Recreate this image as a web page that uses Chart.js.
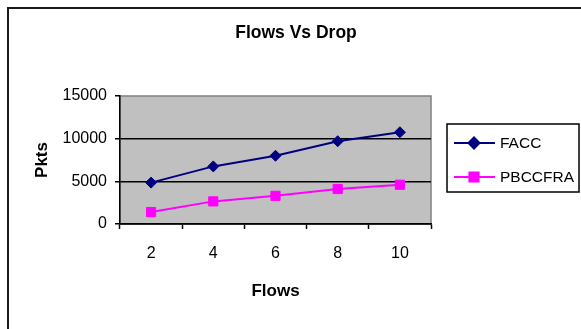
<!DOCTYPE html>
<html>
<head>
<meta charset="utf-8">
<script src="https://cdn.jsdelivr.net/npm/chart.js@4/dist/chart.umd.min.js"></script>
<style>
  html, body { margin: 0; padding: 0; background: #fff; overflow: hidden; }
  #wrap { width: 581px; height: 329px; position: relative; }
</style>
</head>
<body>
<div id="wrap"><canvas id="c" width="581" height="329"></canvas></div>
<script>
// Packet drops per number of flows
const flows = ['2', '4', '6', '8', '10'];
const faccDrop = [4850, 6750, 8000, 9700, 10750];
const pbccfraDrop = [1400, 2650, 3300, 4100, 4600];
const yTicks = [0, 5000, 10000, 15000];
const seriesNames = ['FACC', 'PBCCFRA'];
const chartTitle = 'Flows Vs Drop';
const xTitle = 'Flows';
const yTitle = 'Pkts';

const FONT = '"Liberation Sans", Arial, Helvetica, sans-serif';

// Grey plot background, outer frame, title and boxed legend
const excelFrame = {
  id: 'excelFrame',
  beforeDraw(chart) {
    const { ctx, chartArea: a } = chart;
    ctx.save();
    ctx.fillStyle = '#ffffff';
    ctx.fillRect(0, 0, chart.width, chart.height);
    ctx.fillStyle = '#c0c0c0';
    ctx.fillRect(a.left, a.top, a.right - a.left, a.bottom - a.top);
    ctx.strokeStyle = '#808080';
    ctx.lineWidth = 1.5;
    ctx.strokeRect(a.left, a.top, a.right - a.left, a.bottom - a.top);
    ctx.restore();
  },
  afterDraw(chart) {
    const { ctx } = chart;
    ctx.save();
    // outer chart border (runs off the right and bottom edges)
    ctx.strokeStyle = '#1a1a1a';
    ctx.lineWidth = 2;
    ctx.strokeRect(8, 8, 700, 500);

    // title
    ctx.fillStyle = '#000';
    ctx.font = 'bold 17.5px ' + FONT;
    ctx.textAlign = 'center';
    ctx.textBaseline = 'middle';
    ctx.fillText(chartTitle, 296, 33);

    // legend box
    ctx.strokeStyle = '#000';
    ctx.lineWidth = 1.5;
    ctx.strokeRect(447, 124, 132, 68);
    ctx.font = '15.5px ' + FONT;
    ctx.textAlign = 'left';
    chart.data.datasets.forEach((ds, i) => {
      const y = 143 + i * 34;
      ctx.strokeStyle = ds.borderColor;
      ctx.lineWidth = ds.borderWidth;
      ctx.beginPath();
      ctx.moveTo(454, y);
      ctx.lineTo(495, y);
      ctx.stroke();
      ctx.fillStyle = ds.pointBackgroundColor;
      ctx.strokeStyle = ds.borderColor;
      Chart.helpers.drawPoint(ctx, {
        pointStyle: ds.pointStyle,
        radius: ds.pointRadius,
        rotation: 0,
        borderWidth: 1
      }, 474, y);
      ctx.fillStyle = '#000';
      ctx.fillText(ds.label, 500, y + 1);
    });
    ctx.restore();
  }
};

new Chart(document.getElementById('c'), {
  type: 'line',
  data: {
    labels: flows,
    datasets: [
      {
        label: seriesNames[0],
        data: faccDrop,
        borderColor: '#000080',
        backgroundColor: '#000080',
        pointBackgroundColor: '#000080',
        pointBorderColor: '#000080',
        borderWidth: 2,
        pointStyle: 'rectRot',
        pointRadius: 5.5,
        pointBorderWidth: 1,
        tension: 0
      },
      {
        label: seriesNames[1],
        data: pbccfraDrop,
        borderColor: '#ff00ff',
        backgroundColor: '#ff00ff',
        pointBackgroundColor: '#ff00ff',
        pointBorderColor: '#ff00ff',
        borderWidth: 2,
        pointStyle: 'rect',
        pointRadius: 6.5,
        pointBorderWidth: 1,
        tension: 0
      }
    ]
  },
  options: {
    responsive: false,
    animation: false,
    devicePixelRatio: 1,
    layout: { padding: { left: 0, right: 150, top: 96, bottom: 0 } },
    plugins: {
      legend: { display: false },
      title: { display: false },
      tooltip: { enabled: false }
    },
    scales: {
      x: {
        type: 'category',
        offset: true,
        grid: {
          offset: true,
          drawOnChartArea: false,
          drawTicks: true,
          tickLength: 5,
          tickColor: '#000',
          tickWidth: 1.5
        },
        border: { color: '#000', width: 1.5 },
        ticks: {
          color: '#000',
          font: { family: FONT, size: 16 },
          padding: 15,
          maxRotation: 0,
          autoSkip: false
        },
        title: {
          display: true,
          text: xTitle,
          color: '#000',
          font: { family: FONT, size: 17, weight: 'bold' },
          padding: { top: 0, bottom: 27 }
        },
        afterFit(scale) { scale.height = 105; }
      },
      y: {
        min: 0,
        max: 15000,
        afterBuildTicks(scale) { scale.ticks = yTicks.map(v => ({ value: v })); },
        grid: {
          color: ctx => (ctx.tick && ctx.tick.value === 15000) ? 'rgba(0,0,0,0)' : '#000',
          lineWidth: 1.5,
          drawTicks: true,
          tickLength: 5,
          tickColor: '#000',
          tickWidth: 1.5
        },
        border: { color: '#000', width: 1.5 },
        ticks: {
          color: '#000',
          font: { family: FONT, size: 16 },
          padding: 8,
          callback: v => String(v)
        },
        title: {
          display: true,
          text: yTitle,
          color: '#000',
          font: { family: FONT, size: 17, weight: 'bold' },
          padding: { top: 32, bottom: 0 }
        },
        afterFit(scale) { scale.width = 120; }
      }
    }
  },
  plugins: [excelFrame]
});
</script>
</body>
</html>
